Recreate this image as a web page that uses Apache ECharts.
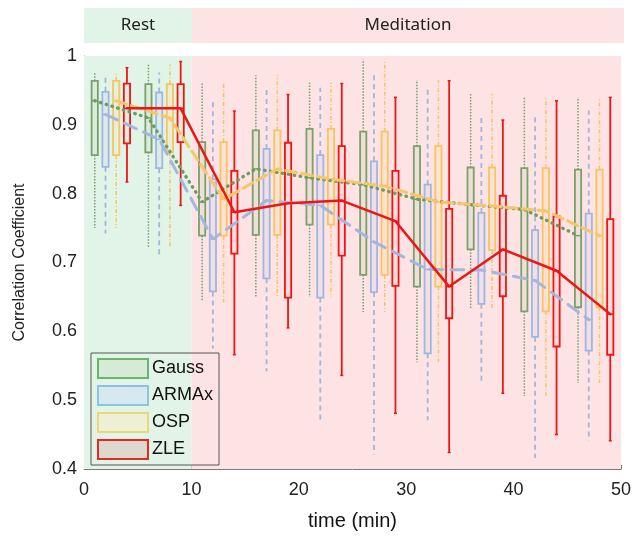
<!DOCTYPE html>
<html>
<head>
<meta charset="utf-8">
<script src="https://cdn.jsdelivr.net/npm/echarts@6/dist/echarts.min.js"></script>
<style>html,body{margin:0;padding:0;background:#fff}#c{width:634px;height:536px}</style>
</head>
<body>
<div id="c"></div>
<script>
// ---- data ----
const methods = ['Gauss', 'ARMAx', 'OSP', 'ZLE'];
const phases = ['Rest', 'Meditation'];
const phaseStart = [0, 10];
const phaseEnd = [10, 50];
const xTicks = [0, 10, 20, 30, 40, 50];
const yTicks = [0.4, 0.5, 0.6, 0.7, 0.8, 0.9, 1];

const gaussTime = [1, 6, 11, 16, 21, 26, 31, 36, 41, 46];
const armaxTime = [2, 7, 12, 17, 22, 27, 32, 37, 42, 47];
const ospTime   = [3, 8, 13, 18, 23, 28, 33, 38, 43, 48];
const zleTime   = [4, 9, 14, 19, 24, 29, 34, 39, 44, 49];

// [lower whisker, Q1, median, Q3, upper whisker]
const gaussStats = [
  [0.750, 0.856, 0.935, 0.964, 0.977],
  [0.722, 0.860, 0.910, 0.959, 0.988],
  [0.643, 0.739, 0.788, 0.875, 0.961],
  [0.650, 0.740, 0.836, 0.892, 0.972],
  [0.650, 0.755, 0.823, 0.894, 0.961],
  [0.628, 0.682, 0.813, 0.890, 0.995],
  [0.555, 0.665, 0.792, 0.869, 0.965],
  [0.634, 0.719, 0.784, 0.838, 0.945],
  [0.506, 0.629, 0.777, 0.837, 0.940],
  [0.525, 0.635, 0.739, 0.835, 0.940]
];
const armaxStats = [
  [0.742, 0.839, 0.915, 0.948, 0.973],
  [0.707, 0.837, 0.879, 0.947, 0.976],
  [0.575, 0.658, 0.734, 0.821, 0.938],
  [0.542, 0.677, 0.790, 0.865, 0.955],
  [0.471, 0.649, 0.783, 0.856, 0.954],
  [0.421, 0.657, 0.730, 0.847, 0.976],
  [0.471, 0.568, 0.690, 0.813, 0.952],
  [0.525, 0.640, 0.689, 0.772, 0.914],
  [0.416, 0.592, 0.674, 0.747, 0.916],
  [0.441, 0.572, 0.617, 0.771, 0.921]
];
const ospStats = [
  [0.750, 0.856, 0.935, 0.964, 0.977],
  [0.722, 0.860, 0.910, 0.959, 0.988],
  [0.642, 0.739, 0.792, 0.875, 0.961],
  [0.650, 0.740, 0.836, 0.892, 0.972],
  [0.649, 0.755, 0.821, 0.894, 0.961],
  [0.628, 0.682, 0.811, 0.890, 0.995],
  [0.555, 0.665, 0.788, 0.869, 0.965],
  [0.634, 0.718, 0.782, 0.838, 0.945],
  [0.506, 0.629, 0.775, 0.837, 0.940],
  [0.525, 0.635, 0.739, 0.835, 0.940]
];
const zleStats = [
  [0.817, 0.873, 0.924, 0.960, 0.983],
  [0.783, 0.875, 0.924, 0.959, 0.992],
  [0.566, 0.713, 0.773, 0.833, 0.920],
  [0.605, 0.649, 0.786, 0.874, 0.944],
  [0.536, 0.710, 0.790, 0.869, 0.960],
  [0.481, 0.666, 0.760, 0.833, 0.940],
  [0.424, 0.619, 0.665, 0.778, 0.964],
  [0.510, 0.651, 0.719, 0.797, 0.907],
  [0.450, 0.578, 0.688, 0.767, 0.935],
  [0.441, 0.566, 0.625, 0.763, 0.940]
];

// ---- styles ----
const styles = {
  Gauss: {stroke: '#7c9f6c', fill: 'rgba(190,215,180,0.25)', whiskerDash: [1.5, 1.5], whiskerW: 1.5,
          lineColor: '#6e9c63', lineType: [0.5, 5.5], lineW: 3.4,
          legendFill: '#d5ebd6', legendBorder: '#6ab56a'},
  ARMAx: {stroke: '#a0b6de', fill: 'rgba(200,210,240,0.25)', whiskerDash: [5, 4], whiskerW: 1.8,
          lineColor: '#a5b6dd', lineType: [13, 8], lineW: 3,
          legendFill: '#d6e9f1', legendBorder: '#8dc3e2'},
  OSP:   {stroke: '#f6c461', fill: 'rgba(250,225,170,0.25)', whiskerDash: [4, 2, 1, 2], whiskerW: 1.5,
          lineColor: '#f7c56a', lineType: [11, 5], lineW: 3,
          legendFill: '#eef0d6', legendBorder: '#e9d877'},
  ZLE:   {stroke: '#ee1515', fill: 'rgba(240,180,180,0.15)', whiskerDash: null, whiskerW: 1.8,
          lineColor: '#ee1515', lineType: 'solid', lineW: 2.5,
          legendFill: '#ddd9cf', legendBorder: '#e22a22'}
};

function boxSeries(name, times, stats) {
  const s = styles[name];
  return {
    type: 'custom', name: name, xAxisIndex: 0, yAxisIndex: 0, z: 3,
    data: times.map((t, i) => [t].concat(stats[i])),
    encode: {x: 0, y: [1, 2, 3, 4, 5]},
    renderItem: function (params, api) {
      const t = api.value(0);
      const pMin = api.coord([t, api.value(1)]);
      const pQ1 = api.coord([t, api.value(2)]);
      const pMed = api.coord([t, api.value(3)]);
      const pQ3 = api.coord([t, api.value(4)]);
      const pMax = api.coord([t, api.value(5)]);
      const w = api.size([0.58, 0])[0];
      const x = pMed[0];
      const ws = {stroke: s.stroke, lineWidth: s.whiskerW, lineDash: s.whiskerDash};
      const children = [
        {type: 'line', shape: {x1: x, y1: pQ3[1], x2: x, y2: pMax[1]}, style: ws},
        {type: 'line', shape: {x1: x, y1: pQ1[1], x2: x, y2: pMin[1]}, style: ws},
        {type: 'rect', shape: {x: x - w / 2, y: pQ3[1], width: w, height: pQ1[1] - pQ3[1]},
         style: {fill: s.fill, stroke: s.stroke, lineWidth: 1.8}},
        {type: 'line', shape: {x1: x - w / 2, y1: pMed[1], x2: x + w / 2, y2: pMed[1]},
         style: {stroke: s.stroke, lineWidth: 1.5}}
      ];
      if (name === 'ZLE') {
        children.push({type: 'line', shape: {x1: x - 1.5, y1: pMax[1], x2: x + 1.5, y2: pMax[1]}, style: {stroke: s.stroke, lineWidth: 1.5}});
        children.push({type: 'line', shape: {x1: x - 1.5, y1: pMin[1], x2: x + 1.5, y2: pMin[1]}, style: {stroke: s.stroke, lineWidth: 1.5}});
      }
      return {type: 'group', children: children};
    }
  };
}

function medianLine(name, times, stats, z) {
  const s = styles[name];
  return {
    type: 'line', name: name + ' median', xAxisIndex: 0, yAxisIndex: 0, z: z,
    data: times.map((t, i) => [t, stats[i][2]]),
    symbol: 'none', silent: true,
    lineStyle: {color: s.lineColor, width: s.lineW, type: s.lineType, cap: 'round'}
  };
}

const bgColors = ['#e1f4e7', '#fde3e3'];
const bandData = phases.map((p, i) => [
  {name: p, xAxis: phaseStart[i], itemStyle: {color: bgColors[i]}},
  {xAxis: phaseEnd[i]}
]);

const option = {
  animation: false,
  backgroundColor: '#ffffff',
  textStyle: {fontFamily: 'Liberation Sans, Arial, sans-serif'},
  grid: [
    {left: 84, right: 10, top: 56, bottom: 65},
    {left: 84, right: 10, top: 8, height: 35}
  ],
  xAxis: [
    {type: 'value', gridIndex: 0, min: xTicks[0], max: xTicks[xTicks.length - 1], interval: 10,
     name: 'time (min)', nameLocation: 'middle', nameGap: 42,
     nameTextStyle: {fontSize: 20, color: '#111'},
     axisLine: {show: true, lineStyle: {color: '#7a7a7a', width: 1}},
     axisTick: {show: true, inside: true, length: 4, lineStyle: {color: '#7a7a7a'}},
     axisLabel: {fontSize: 18, color: '#222', margin: 12},
     splitLine: {show: false}},
    {type: 'value', gridIndex: 1, min: 0, max: 50, show: false}
  ],
  yAxis: [
    {type: 'value', gridIndex: 0, min: yTicks[0], max: yTicks[yTicks.length - 1], interval: 0.1,
     name: 'Correlation Coefficient', nameLocation: 'middle', nameGap: 56,
     nameTextStyle: {fontSize: 16, color: '#222'},
     axisLine: {show: true, lineStyle: {color: '#7a7a7a', width: 1}},
     axisTick: {show: true, inside: true, length: 4, lineStyle: {color: '#7a7a7a'}},
     axisLabel: {fontSize: 18, color: '#222', margin: 7,
                 formatter: v => String(Math.round(v * 10) / 10)},
     splitLine: {show: false}},
    {type: 'value', gridIndex: 1, min: 0, max: 1, show: false}
  ],
  legend: {
    orient: 'vertical', left: 91, top: 353,
    itemWidth: 50, itemHeight: 19, itemGap: 6,
    padding: [5, 6, 5, 6],
    borderColor: '#555', borderWidth: 1, backgroundColor: 'transparent',
    textStyle: {fontSize: 18, color: '#111', padding: [0, 0, 0, -1]},
    data: methods.map(m => ({name: m, icon: 'rect',
      itemStyle: {color: styles[m].legendFill, borderColor: styles[m].legendBorder, borderWidth: 2}}))
  },
  series: [
    {type: 'line', name: 'bg', xAxisIndex: 0, yAxisIndex: 0, z: 0, data: [], silent: true,
     markArea: {silent: true, label: {show: false}, data: bandData}},
    {type: 'line', name: 'band', xAxisIndex: 1, yAxisIndex: 1, z: 0, data: [], silent: true,
     markArea: {silent: true,
       label: {show: true, position: 'inside', fontSize: 17, color: '#222', fontFamily: 'Noto Sans, Open Sans, sans-serif'},
       data: bandData}},
    boxSeries('Gauss', gaussTime, gaussStats),
    boxSeries('ARMAx', armaxTime, armaxStats),
    boxSeries('OSP', ospTime, ospStats),
    boxSeries('ZLE', zleTime, zleStats),
    medianLine('Gauss', gaussTime, gaussStats, 5),
    medianLine('ARMAx', armaxTime, armaxStats, 5),
    medianLine('OSP', ospTime, ospStats, 5),
    medianLine('ZLE', zleTime, zleStats, 6)
  ]
};

const chart = echarts.init(document.getElementById('c'), null, {renderer: 'canvas'});
chart.setOption(option);
</script>
</body>
</html>
